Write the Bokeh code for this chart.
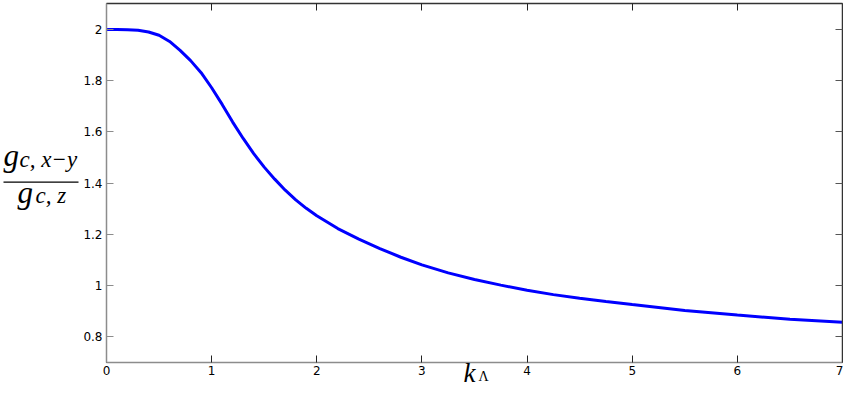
from bokeh.plotting import figure
from bokeh.models import (Range1d, FixedTicker, CustomJSTickFormatter, LinearAxis,
                          Label, BoxAnnotation)
from bokeh.embed import file_html
from bokeh.resources import INLINE

# data
k_lambda = [0.0, 0.1, 0.2, 0.3, 0.4, 0.5, 0.6, 0.7, 0.8, 0.9, 1.0, 1.1, 1.2, 1.3, 1.4,
            1.5, 1.6, 1.7, 1.8, 1.9, 2.0, 2.2, 2.4, 2.6, 2.8, 3.0, 3.25, 3.5, 3.75,
            4.0, 4.25, 4.5, 4.75, 5.0, 5.5, 6.0, 6.5, 7.0]
g_ratio = [2.000, 2.000, 1.999, 1.997, 1.990, 1.977, 1.953, 1.918, 1.878, 1.831, 1.772,
           1.707, 1.638, 1.574, 1.515, 1.462, 1.415, 1.372, 1.334, 1.301, 1.272, 1.222,
           1.181, 1.144, 1.110, 1.080, 1.049, 1.023, 1.001, 0.981, 0.964, 0.950, 0.937,
           0.925, 0.902, 0.884, 0.868, 0.856]
x_ticks = [0, 1, 2, 3, 4, 5, 6, 7]
y_ticks = [0.8, 1.0, 1.2, 1.4, 1.6, 1.8, 2.0]
x_lo, x_hi = 0, 7
y_lo, y_hi = 0.7, 2.1

# layout (pixels on the canvas)
W, H = 843, 389
left_px, right_px = 106, 842
top_px, bottom_px = 3.3, 361.7
sx = (right_px - left_px) / (x_hi - x_lo)
sy = (bottom_px - top_px) / (y_hi - y_lo)
xr = Range1d(x_lo - left_px / sx, x_hi + (W - right_px) / sx)
yr = Range1d(y_lo - (H - bottom_px) / sy, y_hi + top_px / sy)

p = figure(width=W, height=H, output_backend="svg", toolbar_location=None,
           x_range=xr, y_range=yr, x_axis_location=None, y_axis_location=None,
           min_border=0)
p.outline_line_color = None
p.grid.visible = False
p.background_fill_color = "white"
p.border_fill_color = "white"

p.line(k_lambda, g_ratio, line_color="#0000ff", line_width=3)

fmt = CustomJSTickFormatter(code="return String(Math.round(tick*10)/10);")

def make_axis(loc, bounds, ticks, tick_color, line_color, labels):
    ax = LinearAxis(fixed_location=loc, bounds=bounds, ticker=FixedTicker(ticks=ticks))
    ax.major_tick_in = 7
    ax.major_tick_out = 0
    ax.minor_tick_line_color = None
    ax.major_tick_line_color = tick_color
    ax.axis_line_color = line_color
    ax.axis_line_width = 1.5
    if labels:
        ax.major_label_text_font = "DejaVu Sans"
        ax.major_label_text_font_size = "12px"
        ax.major_label_text_color = "black"
        ax.major_label_standoff = 4
    else:
        ax.major_label_text_color = None
    return ax

bottom = make_axis(y_lo, (x_lo, x_hi), x_ticks, "#222222", "#8c8c8c", True)
left = make_axis(x_lo, (y_lo, y_hi), y_ticks, "#8c8c8c", "#8c8c8c", True)
left.formatter = fmt
top = make_axis(y_hi, (x_lo, x_hi), x_ticks, "#222222", "#333333", False)
right = make_axis(x_hi, (y_lo, y_hi), y_ticks, "#555555", "#333333", False)
p.add_layout(bottom, "below")
p.add_layout(left, "left")
p.add_layout(top, "above")
p.add_layout(right, "right")

serif = "Liberation Serif"
BASE_FIX = 10  # labels render this many px below the requested baseline
def lab(x, y, text, size, style="italic"):
    # x, y: canvas pixels from top-left (y = baseline)
    p.add_layout(Label(x=x, y=H - y + BASE_FIX, x_units="screen", y_units="screen",
                       text=text, text_font=serif, text_font_size=size,
                       text_font_style=style, text_color="black", text_align="left",
                       text_baseline="alphabetic"))

# y axis label: fraction g_{c, x-y} / g_{c, z}
lab(3, 165, "g", "31px")
lab(19, 169, "c, x\u2212y", "23px")
p.add_layout(BoxAnnotation(left=3, right=78, bottom=H - 182.3, top=H - 181.0,
                           left_units="screen", right_units="screen",
                           bottom_units="screen", top_units="screen",
                           fill_color="black", fill_alpha=1, line_color=None))
lab(17, 201.5, "g", "31px")
lab(35, 205, "c, z", "23px")

# x axis label k_Lambda
lab(463, 382, "k", "27px")
lab(478, 385.5, "\u039b", "14px", "normal")

open("out.html", "w").write(file_html(p, INLINE))
